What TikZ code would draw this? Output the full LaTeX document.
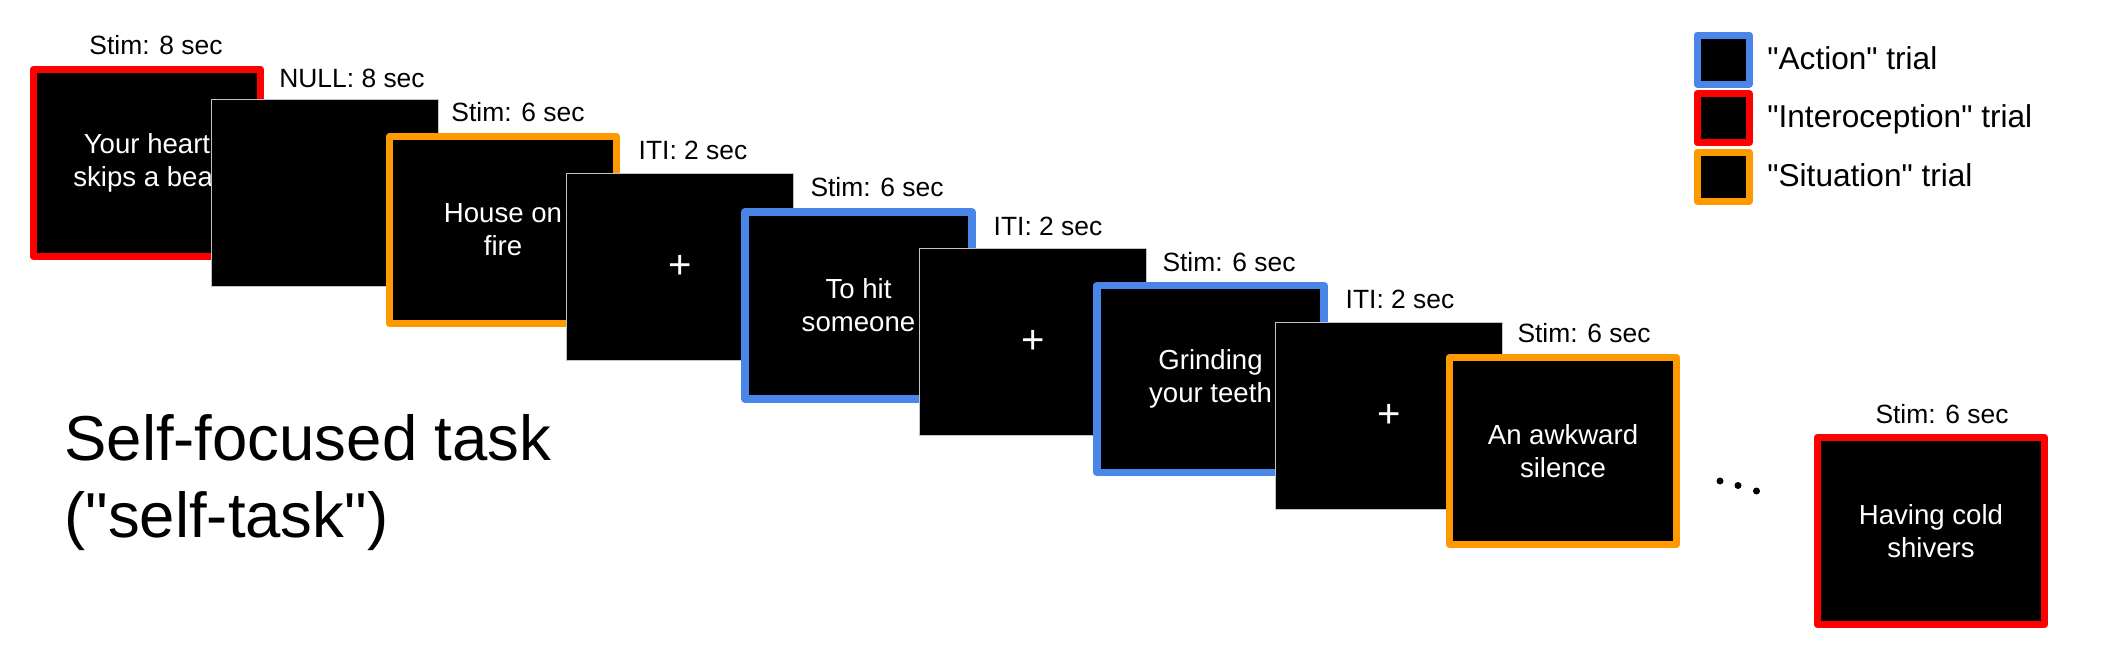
\documentclass[tikz,border=0pt]{standalone}
\usepackage{fontspec}
\setmainfont{Liberation Sans}[Ligatures=TeXOff]
\usetikzlibrary{calc}
\definecolor{trial_blue}{RGB}{74, 134, 232}
\definecolor{trial_red}{RGB}{255, 0, 0}
\definecolor{trial_orange}{RGB}{255, 153, 0}
\definecolor{iti_grey}{RGB}{195, 195, 195}
\tikzstyle{box}=[rectangle,fill=black,text=white,align=center,inner sep=0pt,
  line join=round,minimum width=113.5pt,minimum height=93.5pt,
  font=\fontsize{13.8}{16.6}\selectfont]
\tikzstyle{bn}=[box,draw=trial_blue,line width=3.65pt]
\tikzstyle{rn}=[box,draw=trial_red,line width=3.65pt]
\tikzstyle{on}=[box,draw=trial_orange,line width=3.65pt]
\tikzstyle{kn}=[box,draw=iti_grey,line width=0.75pt,
  font=\fontsize{20}{24}\selectfont]
\tikzstyle{key}=[rectangle,fill=black,line join=round,line width=3.5pt,
  minimum width=26pt,minimum height=24.5pt]
\tikzstyle{lab}=[anchor=base,inner sep=0pt,font=\fontsize{13.2}{15.8}\selectfont]
\tikzstyle{keylab}=[anchor=base west,inner sep=0pt,font=\fontsize{15.8}{19}\selectfont]

\begin{document}
\begin{tikzpicture}[x=0.5pt, y=-0.5pt]
    \useasboundingbox (0, 0) rectangle (2111, 664);
    % trial sequence
    \node [style=rn] (1) at (147, 163) {Your heart\\skips a beat};
    \node [style=lab] (t1) at (156, 54.5) {Stim: 8 sec};
    \node [style=kn] (2) at (325, 193) {};
    \node [style=lab] (t2) at (352, 87) {NULL: 8 sec};
    \node [style=on] (3) at (503, 230) {House on\\fire};
    \node [style=lab] (t3) at (518, 121) {Stim: 6 sec};
    \node [style=kn] (4) at (680, 267) {+};
    \node [style=lab] (t4) at (693, 159) {ITI: 2 sec};
    \node [style=bn] (5) at (858.5, 305.5) {To hit\\someone};
    \node [style=lab] (t5) at (877, 196) {Stim: 6 sec};
    \node [style=kn] (6) at (1033, 342) {+};
    \node [style=lab] (t6) at (1048, 235) {ITI: 2 sec};
    \node [style=bn] (7) at (1210.5, 379) {Grinding\\your teeth};
    \node [style=lab] (t7) at (1229, 271) {Stim: 6 sec};
    \node [style=kn] (8) at (1389, 416) {+};
    \node [style=lab] (t8) at (1400, 308) {ITI: 2 sec};
    \node [style=on] (9) at (1563, 451) {An awkward\\silence};
    \node [style=lab] (t9) at (1584, 342) {Stim: 6 sec};
    \fill (1720, 481) circle (3.5);
    \fill (1738, 485.5) circle (3.5);
    \fill (1756.5, 491) circle (3.5);
    \node [style=rn] (10) at (1931, 531) {Having cold\\shivers};
    \node [style=lab] (t10) at (1942, 423) {Stim: 6 sec};
    % key
    \node [style=key, draw=trial_blue] (ka) at (1723, 59.5) {};
    \node [style=keylab] (kat) at (1767, 69) {"Action" trial};
    \node [style=key, draw=trial_red] (ki) at (1723, 118) {};
    \node [style=keylab] (kit) at (1767, 127.5) {"Interoception" trial};
    \node [style=key, draw=trial_orange] (ks) at (1723, 176.5) {};
    \node [style=keylab] (kst) at (1767, 186) {"Situation" trial};
    % task name
    \node [anchor=base west, align=left, inner sep=0pt,
      font=\fontsize{31.75}{38.3}\selectfont] (title) at (64, 537)
      {Self-focused task\\("self-task")};
\end{tikzpicture}
\end{document}
